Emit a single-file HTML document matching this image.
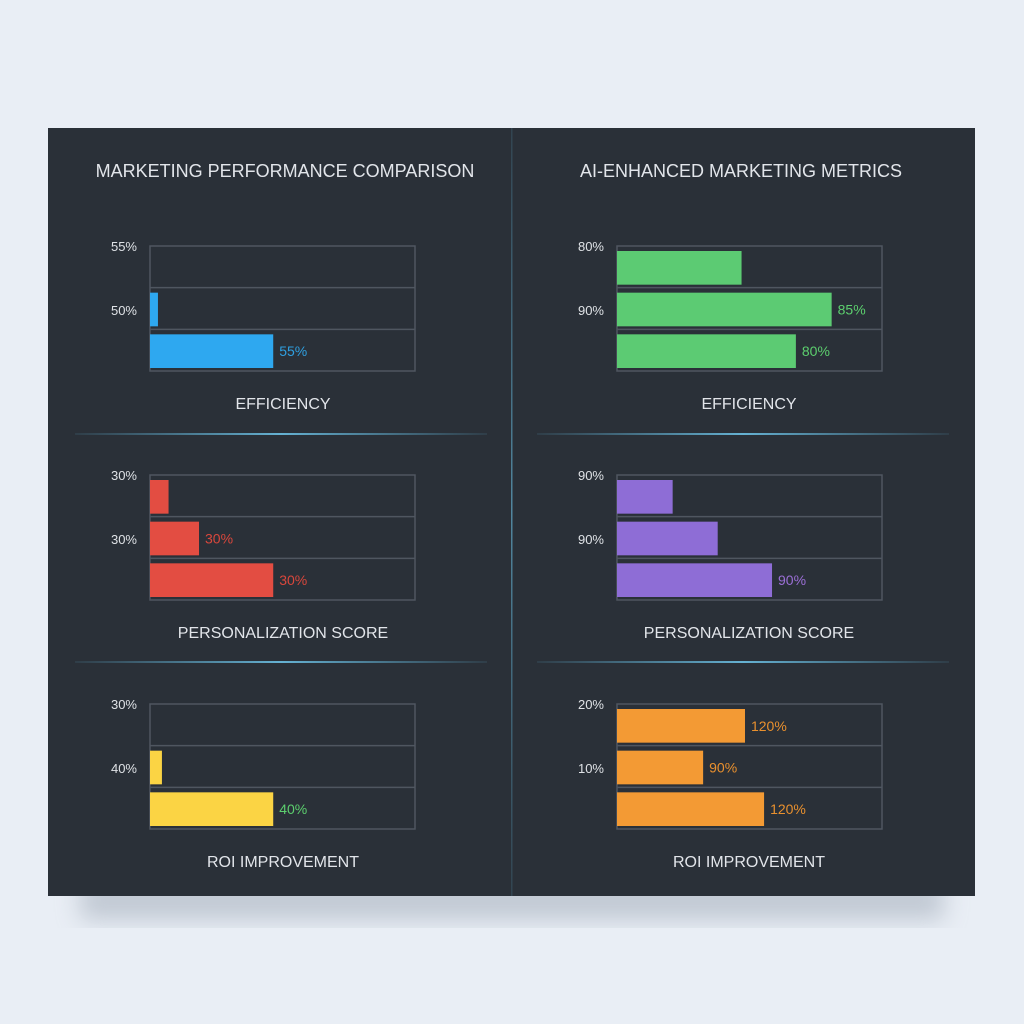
<!DOCTYPE html>
<html><head><meta charset="utf-8">
<style>
html,body{margin:0;padding:0;width:1024px;height:1024px;background:#e9eef5;overflow:hidden}
svg{display:block}
text{font-family:"Liberation Sans",sans-serif}
</style></head>
<body>
<svg id="chart" width="1024" height="1024" viewBox="0 0 1024 1024">
<defs>
<linearGradient id="sep" x1="0" x2="1"><stop offset="0" stop-color="#5fb4d8" stop-opacity="0.1"/><stop offset="0.5" stop-color="#6cc0e4" stop-opacity="0.9"/><stop offset="1" stop-color="#5fb4d8" stop-opacity="0.1"/></linearGradient>
<linearGradient id="vsep" x1="0" y1="0" x2="0" y2="1"><stop offset="0" stop-color="#5fb4d8" stop-opacity="0.15"/><stop offset="0.5" stop-color="#6cc0e4" stop-opacity="0.6"/><stop offset="1" stop-color="#5fb4d8" stop-opacity="0.15"/></linearGradient>
<filter id="sh" x="-10%" y="-10%" width="120%" height="130%"><feGaussianBlur stdDeviation="12"/></filter>
</defs>
<rect x="80" y="880" width="864" height="40" fill="#9aa4b2" opacity="0.5" filter="url(#sh)"/>
<rect x="48" y="128" width="927" height="768" fill="#2a3038"/>
<rect x="511" y="128" width="1.5" height="768" fill="url(#vsep)"/>
<text x="285" y="177" text-anchor="middle" font-size="18" fill="#e2e5ea">MARKETING PERFORMANCE COMPARISON</text>
<text x="741" y="177" text-anchor="middle" font-size="18" fill="#e2e5ea">AI-ENHANCED MARKETING METRICS</text>
<rect x="75" y="433" width="412" height="2" fill="url(#sep)"/>
<rect x="537" y="433" width="412" height="2" fill="url(#sep)"/>
<rect x="75" y="661" width="412" height="2" fill="url(#sep)"/>
<rect x="537" y="661" width="412" height="2" fill="url(#sep)"/>
<g id="plots"></g>
</svg>
<script>
// values as fraction of axis (0..1)
const panelNames = ["efficiency-left","personalization-left","roi-left","efficiency-right","personalization-right","roi-right"];
const panelTitles = ["EFFICIENCY","PERSONALIZATION SCORE","ROI IMPROVEMENT","EFFICIENCY","PERSONALIZATION SCORE","ROI IMPROVEMENT"];
const tickTop = ["55%","30%","30%","80%","90%","20%"];
const tickMid = ["50%","30%","40%","90%","90%","10%"];
const valsEffL = [0, 0.03, 0.465];
const valsPerL = [0.07, 0.185, 0.465];
const valsRoiL = [0, 0.045, 0.465];
const valsEffR = [0.47, 0.81, 0.675];
const valsPerR = [0.21, 0.38, 0.585];
const valsRoiR = [0.483, 0.325, 0.555];
const labelsEffL = ["", "", "55%"];
const labelsPerL = ["", "30%", "30%"];
const labelsRoiL = ["", "", "40%"];
const labelsEffR = ["", "85%", "80%"];
const labelsPerR = ["", "", "90%"];
const labelsRoiR = ["120%", "90%", "120%"];
const allVals = [valsEffL,valsPerL,valsRoiL,valsEffR,valsPerR,valsRoiR];
const allLabels = [labelsEffL,labelsPerL,labelsRoiL,labelsEffR,labelsPerR,labelsRoiR];
const barColors = ["#2ea8f0","#e34d42","#fbd444","#5ccb73","#8e6dd6","#f39a34"];
const labelColors = ["#2f9fe0","#d9473c","#5ccf6e","#5ccf6e","#9b6fd6","#e9902e"];

const NS="http://www.w3.org/2000/svg";
const g=document.getElementById('plots');
function mk(t,a,p){const e=document.createElementNS(NS,t);for(const k in a)e.setAttribute(k,a[k]);(p||g).appendChild(e);return e;}
const W=265, H=125;
for(let i=0;i<6;i++){
  const x0 = i<3?150:617, y0=[246,475,704][i%3];
  const xS = v=>x0+v*W;
  const rowH=H/3;
  const grp=mk('g',{});
  
  
  const frame=mk('rect',{x:x0,y:y0,width:W,height:H,fill:'none',stroke:'#4f5660','stroke-width':1.5},grp);
  
  
  for(let r=1;r<3;r++){
    const ln=mk('line',{x1:x0,x2:x0+W,y1:y0+r*rowH,y2:y0+r*rowH,stroke:'#4f5660','stroke-width':1.5},grp);
    
    
  }
  const t1=mk('text',{x:x0-13,y:y0+5,'text-anchor':'end','font-size':13,fill:'#dfe2e6'},grp);
  t1.textContent=tickTop[i];
  
  
  const t2=mk('text',{x:x0-13,y:y0+69,'text-anchor':'end','font-size':13,fill:'#dfe2e6'},grp);
  t2.textContent=tickMid[i];
  
  
  allVals[i].forEach((v,r)=>{
    const by=y0+r*rowH+5, bh=rowH-8;
    if(v>0){
      const b=mk('rect',{x:x0,y:by,width:xS(v)-x0,height:bh,fill:barColors[i]},grp);
      
      
    }
    const lab=allLabels[i][r];
    if(lab){
      const t=mk('text',{x:xS(v)+6,y:by+bh/2+5,'font-size':14,fill:labelColors[i]},grp);
      t.textContent=lab;
      
      
    }
  });
  const st=mk('text',{x:(i<3?283:749),y:y0+163,'text-anchor':'middle','font-size':16,fill:'#e2e5ea'},grp);
  st.textContent=panelTitles[i];
  
  
}
</script>
</body></html>
